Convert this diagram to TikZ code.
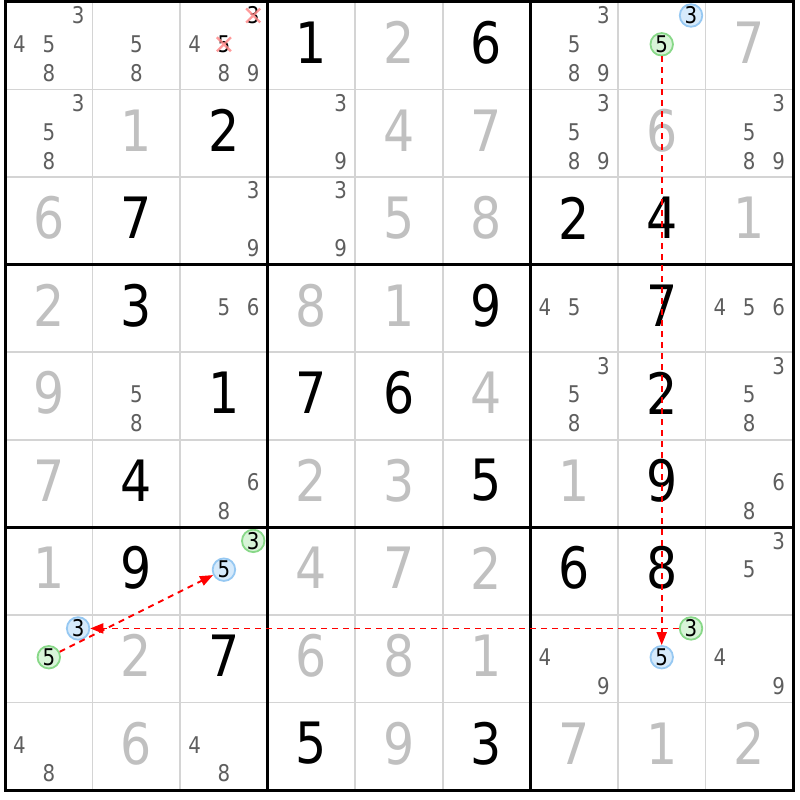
\documentclass[tikz,border=0pt]{standalone}
\usepackage{fontspec}
\setmainfont{DejaVu Sans}
\newfontfamily\digfont[FakeStretch=0.86]{DejaVu Sans}
\usetikzlibrary{arrows.meta}
\definecolor{givencol}{HTML}{C0C0C0}
\definecolor{candcol}{HTML}{5E5E5E}
\definecolor{thincol}{HTML}{D4D4D4}
\definecolor{bluefill}{HTML}{D6EAFB}
\definecolor{bluedraw}{HTML}{96C8F2}
\definecolor{greenfill}{HTML}{D8F4D8}
\definecolor{greendraw}{HTML}{88D888}
\definecolor{xcol}{HTML}{FF8A8A}
\tikzset{
  givenst/.style={inner sep=0pt, text=givencol, font=\digfont\fontsize{57}{57}\selectfont},
  placedst/.style={inner sep=0pt, text=black, font=\digfont\fontsize{57}{57}\selectfont},
  candst/.style={inner sep=0pt, text=candcol, font=\digfont\fontsize{23}{23}\selectfont},
  crossst/.style={inner sep=0pt, text=black, font=\digfont\fontsize{23}{23}\selectfont},
  bluec/.style={circle, inner sep=0pt, minimum size=22.5pt, fill=bluefill, draw=bluedraw, line width=1.8pt, text=black, font=\digfont\fontsize{23}{23}\selectfont},
  greenc/.style={circle, inner sep=0pt, minimum size=22.5pt, fill=greenfill, draw=greendraw, line width=1.8pt, text=black, font=\digfont\fontsize{23}{23}\selectfont},
  xmark/.style={draw=xcol, line width=2.4pt, opacity=0.85},
  link/.style={draw=red, line width=1.8pt, dash pattern=on 6pt off 5pt, -{Triangle[length=13pt,width=10pt]}},
  thinline/.style={draw=thincol, line width=1.6pt},
  thickline/.style={draw=black, line width=3pt, line cap=rect}
}
\newcommand\setpos[3]{%
  \pgfmathsetmacro\px{5+(#2-1)*87.56+14.5+29.3*mod(#3-1,3)}%
  \pgfmathsetmacro\py{2+(#1-1)*87.56+13.5+28.8*floor((#3-1)/3)}}
\newcommand\Gv[3]{\node[givenst] (g#1#2) at ({5+(#2-0.5)*87.56},{-1+(#1-0.5)*87.56}) {#3};}
\newcommand\Pl[3]{\node[placedst] (g#1#2) at ({5+(#2-0.5)*87.56},{-1+(#1-0.5)*87.56}) {#3};}
\newcommand\Cd[3]{\foreach \d in {#3}{\setpos{#1}{#2}{\d}\node[candst] (k#1#2\d) at (\px,\py) {\d};}}
\newcommand\Cc[4]{\setpos{#1}{#2}{#3}\node[#4] (k#1#2#3) at (\px,\py) {#3};}
\newcommand\Cx[3]{\setpos{#1}{#2}{#3}\node[crossst] (k#1#2#3) at (\px,\py) {#3};
  \draw[xmark] (\px-7,\py-7) -- (\px+7,\py+7) (\px-7,\py+7) -- (\px+7,\py-7);}
\begin{document}
\begin{tikzpicture}[x=1pt,y=-1pt]
\useasboundingbox (0,0) rectangle (800,800);
\fill[white] (0,0) rectangle (800,800);
% thin grid
\foreach \i in {1,2,4,5,7,8}{
  \draw[thinline] ({5+\i*87.56},2) -- ({5+\i*87.56},790);
  \draw[thinline] (5,{2+\i*87.56}) -- (793,{2+\i*87.56});
}
% row 1
\Cd{1}{1}{3,4,5,8}
\Cd{1}{2}{5,8}
\Cd{1}{3}{4,8,9}
\Cx{1}{3}{3}
\Cx{1}{3}{5}
\Pl{1}{4}{1}
\Gv{1}{5}{2}
\Pl{1}{6}{6}
\Cd{1}{7}{3,5,8,9}
\Cc{1}{8}{3}{bluec}
\Cc{1}{8}{5}{greenc}
\Gv{1}{9}{7}
% row 2
\Cd{2}{1}{3,5,8}
\Gv{2}{2}{1}
\Pl{2}{3}{2}
\Cd{2}{4}{3,9}
\Gv{2}{5}{4}
\Gv{2}{6}{7}
\Cd{2}{7}{3,5,8,9}
\Gv{2}{8}{6}
\Cd{2}{9}{3,5,8,9}
% row 3
\Gv{3}{1}{6}
\Pl{3}{2}{7}
\Cd{3}{3}{3,9}
\Cd{3}{4}{3,9}
\Gv{3}{5}{5}
\Gv{3}{6}{8}
\Pl{3}{7}{2}
\Pl{3}{8}{4}
\Gv{3}{9}{1}
% row 4
\Gv{4}{1}{2}
\Pl{4}{2}{3}
\Cd{4}{3}{5,6}
\Gv{4}{4}{8}
\Gv{4}{5}{1}
\Pl{4}{6}{9}
\Cd{4}{7}{4,5}
\Pl{4}{8}{7}
\Cd{4}{9}{4,5,6}
% row 5
\Gv{5}{1}{9}
\Cd{5}{2}{5,8}
\Pl{5}{3}{1}
\Pl{5}{4}{7}
\Pl{5}{5}{6}
\Gv{5}{6}{4}
\Cd{5}{7}{3,5,8}
\Pl{5}{8}{2}
\Cd{5}{9}{3,5,8}
% row 6
\Gv{6}{1}{7}
\Pl{6}{2}{4}
\Cd{6}{3}{6,8}
\Gv{6}{4}{2}
\Gv{6}{5}{3}
\Pl{6}{6}{5}
\Gv{6}{7}{1}
\Pl{6}{8}{9}
\Cd{6}{9}{6,8}
% row 7
\Gv{7}{1}{1}
\Pl{7}{2}{9}
\Cc{7}{3}{3}{greenc}
\Cc{7}{3}{5}{bluec}
\Gv{7}{4}{4}
\Gv{7}{5}{7}
\Gv{7}{6}{2}
\Pl{7}{7}{6}
\Pl{7}{8}{8}
\Cd{7}{9}{3,5}
% row 8
\Cc{8}{1}{3}{bluec}
\Cc{8}{1}{5}{greenc}
\Gv{8}{2}{2}
\Pl{8}{3}{7}
\Gv{8}{4}{6}
\Gv{8}{5}{8}
\Gv{8}{6}{1}
\Cd{8}{7}{4,9}
\Cc{8}{8}{3}{greenc}
\Cc{8}{8}{5}{bluec}
\Cd{8}{9}{4,9}
% row 9
\Cd{9}{1}{4,8}
\Gv{9}{2}{6}
\Cd{9}{3}{4,8}
\Pl{9}{4}{5}
\Gv{9}{5}{9}
\Pl{9}{6}{3}
\Gv{9}{7}{7}
\Gv{9}{8}{1}
\Gv{9}{9}{2}
% thick grid
\foreach \i in {0,3,6,9}{
  \draw[thickline] ({5+\i*87.56},2) -- ({5+\i*87.56},790);
  \draw[thickline] (5,{2+\i*87.56}) -- (793,{2+\i*87.56});
}
% links
\draw[link] (k185) -- (k885);
\draw[link] (k883) -- (k813);
\draw[link] (k815) -- (k735);
\end{tikzpicture}
\end{document}
